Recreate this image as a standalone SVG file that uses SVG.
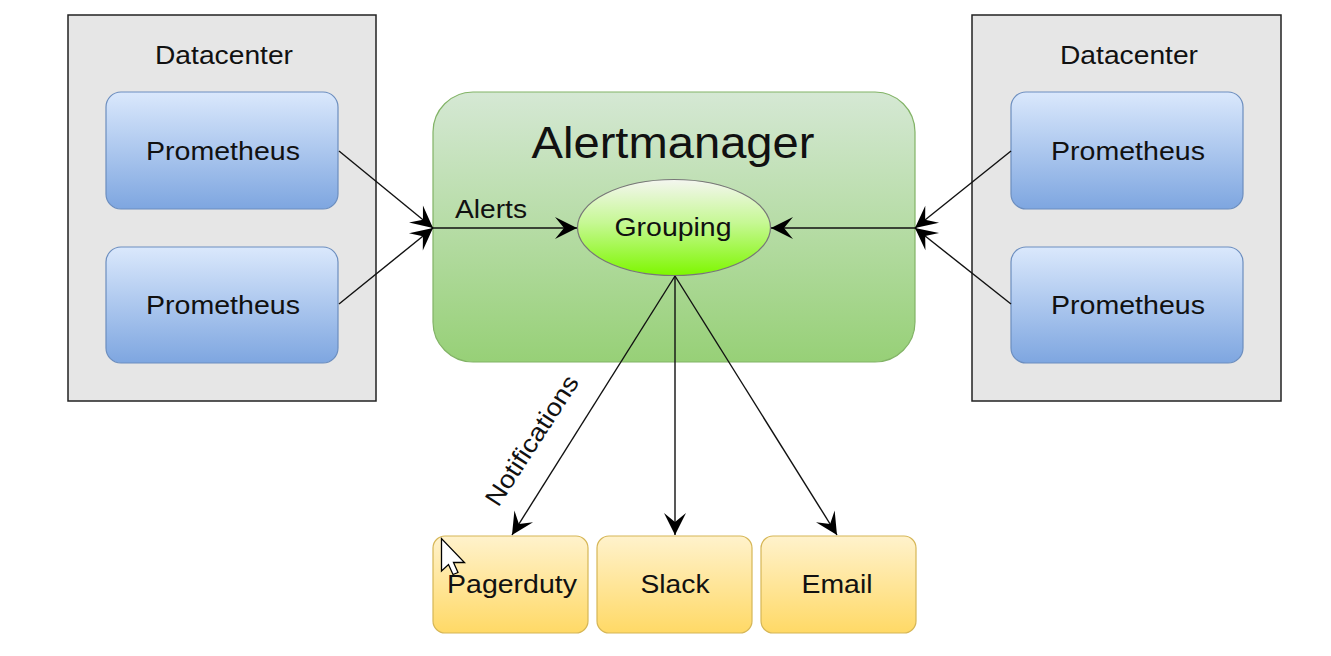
<svg xmlns="http://www.w3.org/2000/svg" width="1331" height="656" viewBox="0 0 1331 656">
<defs>
<style>
text{font-family:"Liberation Sans",Arial,Helvetica,sans-serif;fill:#111;}
.dc{fill:#e6e6e6;stroke:#222;stroke-width:1.5;}
.prom{fill:url(#gBlue);stroke:#6c8ebf;stroke-width:1.2;}
.out{fill:url(#gYellow);stroke:#d6b656;stroke-width:1.2;}
.lbl{font-size:25.5px;text-anchor:middle;}
.edge{fill:none;stroke:#111;stroke-width:1.4;marker-end:url(#arr);}
</style>
<linearGradient id="gBlue" x1="0" y1="0" x2="0" y2="1"><stop offset="0" stop-color="#dae8fc"/><stop offset="1" stop-color="#7ea6e0"/></linearGradient>
<linearGradient id="gGreen" x1="0" y1="0" x2="0" y2="1"><stop offset="0" stop-color="#d5e8d4"/><stop offset="1" stop-color="#97d077"/></linearGradient>
<linearGradient id="gGroup" x1="0" y1="0" x2="0" y2="1"><stop offset="0" stop-color="#f4f6f0"/><stop offset="0.45" stop-color="#c6f894"/><stop offset="1" stop-color="#7ef700"/></linearGradient>
<linearGradient id="gYellow" x1="0" y1="0" x2="0" y2="1"><stop offset="0" stop-color="#fff2cc"/><stop offset="1" stop-color="#ffd966"/></linearGradient>
<marker id="arr" viewBox="-24 -12 25 24" refX="0" refY="0" markerWidth="25" markerHeight="24" markerUnits="userSpaceOnUse" orient="auto">
<path d="M0,0 L-22,-11 L-13,0 L-22,11 Z" fill="#000"/>
</marker>
</defs>

<g id="datacenter-left">
<rect class="dc" x="68" y="15" width="308" height="386"/>
<text class="lbl" x="224" y="64" textLength="138" lengthAdjust="spacingAndGlyphs">Datacenter</text>
</g>
<g id="prometheus-l1">
<rect class="prom" x="106" y="92" width="232" height="117" rx="15"/>
<text class="lbl" x="223" y="160" textLength="154" lengthAdjust="spacingAndGlyphs">Prometheus</text>
</g>
<g id="prometheus-l2">
<rect class="prom" x="106" y="247" width="232" height="116" rx="15"/>
<text class="lbl" x="223" y="314" textLength="154" lengthAdjust="spacingAndGlyphs">Prometheus</text>
</g>

<g id="datacenter-right">
<rect class="dc" x="972" y="15" width="309" height="386"/>
<text class="lbl" x="1129" y="64" textLength="138" lengthAdjust="spacingAndGlyphs">Datacenter</text>
</g>
<g id="prometheus-r1">
<rect class="prom" x="1011" y="92" width="232" height="117" rx="15"/>
<text class="lbl" x="1128" y="160" textLength="154" lengthAdjust="spacingAndGlyphs">Prometheus</text>
</g>
<g id="prometheus-r2">
<rect class="prom" x="1011" y="247" width="232" height="116" rx="15"/>
<text class="lbl" x="1128" y="314" textLength="154" lengthAdjust="spacingAndGlyphs">Prometheus</text>
</g>

<g id="alertmanager">
<rect x="433" y="92" width="482" height="270" rx="40" fill="url(#gGreen)" stroke="#82b366" stroke-width="1.2"/>
<text x="673" y="158" font-size="45" text-anchor="middle" textLength="283" lengthAdjust="spacingAndGlyphs">Alertmanager</text>
</g>

<g id="grouping">
<ellipse cx="674" cy="227.5" rx="96.5" ry="48" fill="url(#gGroup)" stroke="#777" stroke-width="1.2"/>
<text class="lbl" x="673" y="236" textLength="117" lengthAdjust="spacingAndGlyphs">Grouping</text>
</g>

<g id="pagerduty">
<rect class="out" x="433" y="536" width="155" height="97" rx="12"/>
<text class="lbl" x="512" y="593" textLength="130" lengthAdjust="spacingAndGlyphs">Pagerduty</text>
</g>
<g id="slack">
<rect class="out" x="597" y="536" width="155" height="97" rx="12"/>
<text class="lbl" x="675" y="593" textLength="69" lengthAdjust="spacingAndGlyphs">Slack</text>
</g>
<g id="email">
<rect class="out" x="761" y="536" width="155" height="97" rx="12"/>
<text class="lbl" x="837" y="593" textLength="71" lengthAdjust="spacingAndGlyphs">Email</text>
</g>

<g id="connectors">
<path class="edge" d="M339,151 L433,228"/>
<path class="edge" d="M339,304 L433,228"/>
<path class="edge" d="M433,228 L577,228"/>
<path class="edge" d="M1011,151 L915,228"/>
<path class="edge" d="M1011,304 L915,228"/>
<path class="edge" d="M915,228 L771,228"/>
<path class="edge" d="M675,276 L512,535"/>
<path class="edge" d="M675,276 L675,535"/>
<path class="edge" d="M675,276 L837,535"/>
<text x="455" y="218" font-size="26" textLength="72" lengthAdjust="spacingAndGlyphs">Alerts</text>
<text x="539" y="445" font-size="25" text-anchor="middle" textLength="150" lengthAdjust="spacingAndGlyphs" transform="rotate(-57 539 445)">Notifications</text>
</g>

<g id="cursor">
<path d="M441.5,538.5 L441.5,571 L448.5,564.5 L453,574.5 L458,572.5 L453.5,562.5 L464.5,562.5 Z" fill="#fff" stroke="#000" stroke-width="1.3" stroke-linejoin="miter"/>
</g>
</svg>
